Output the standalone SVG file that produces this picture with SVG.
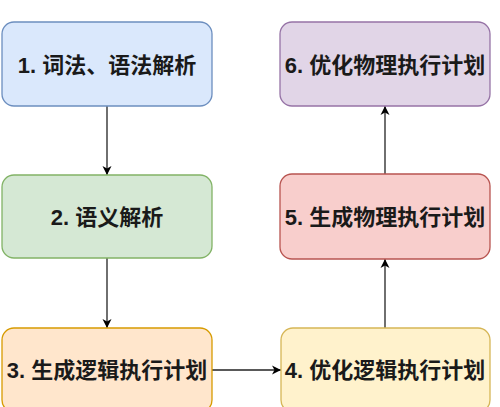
<svg xmlns="http://www.w3.org/2000/svg" width="500" height="407" viewBox="0 0 500 407">
<defs>
<marker id="arr" viewBox="0 0 10 10" refX="9" refY="5" markerWidth="10" markerHeight="10" markerUnits="userSpaceOnUse" orient="auto">
<path d="M0,0.5 L9,5 L0,9.5 L2.5,5 Z" fill="#000"/>
</marker>
<style>
.box{stroke-width:1.3}
.lbl{font-family:"Liberation Sans","Noto Sans CJK SC",sans-serif;font-weight:bold;font-size:22px;fill:#1a1a1a;text-anchor:middle;dominant-baseline:central}
.conn{stroke:#222;stroke-width:1.3;fill:none;marker-end:url(#arr)}
</style>
</defs>
<rect width="500" height="407" fill="#fff"/>
<g id="connectors">
<path class="conn" d="M107,106 L107,175"/>
<path class="conn" d="M107,258 L107,328"/>
<path class="conn" d="M212,370 L281,370"/>
<path class="conn" d="M385,328 L385,259"/>
<path class="conn" d="M385,174 L385,106"/>
</g>
<g id="n1"><rect class="box" x="2" y="22" width="210" height="84" rx="12" fill="#dae8fc" stroke="#6c8ebf"/><text class="lbl" x="107" y="65">1. 词法、语法解析</text></g>
<g id="n2"><rect class="box" x="2" y="175" width="210" height="83" rx="12" fill="#d5e8d4" stroke="#82b366"/><text class="lbl" x="107" y="217">2. 语义解析</text></g>
<g id="n3"><rect class="box" x="2" y="328" width="210" height="84" rx="12" fill="#ffe6cc" stroke="#d79b00"/><text class="lbl" x="107" y="370">3. 生成逻辑执行计划</text></g>
<g id="n4"><rect class="box" x="281" y="328" width="209" height="84" rx="12" fill="#fff2cc" stroke="#d6b656"/><text class="lbl" x="385" y="370">4. 优化逻辑执行计划</text></g>
<g id="n5"><rect class="box" x="280" y="174" width="210" height="85" rx="12" fill="#f8cecc" stroke="#b85450"/><text class="lbl" x="385" y="217">5. 生成物理执行计划</text></g>
<g id="n6"><rect class="box" x="280" y="22" width="210" height="84" rx="12" fill="#e1d5e7" stroke="#9673a6"/><text class="lbl" x="385" y="65">6. 优化物理执行计划</text></g>
</svg>
